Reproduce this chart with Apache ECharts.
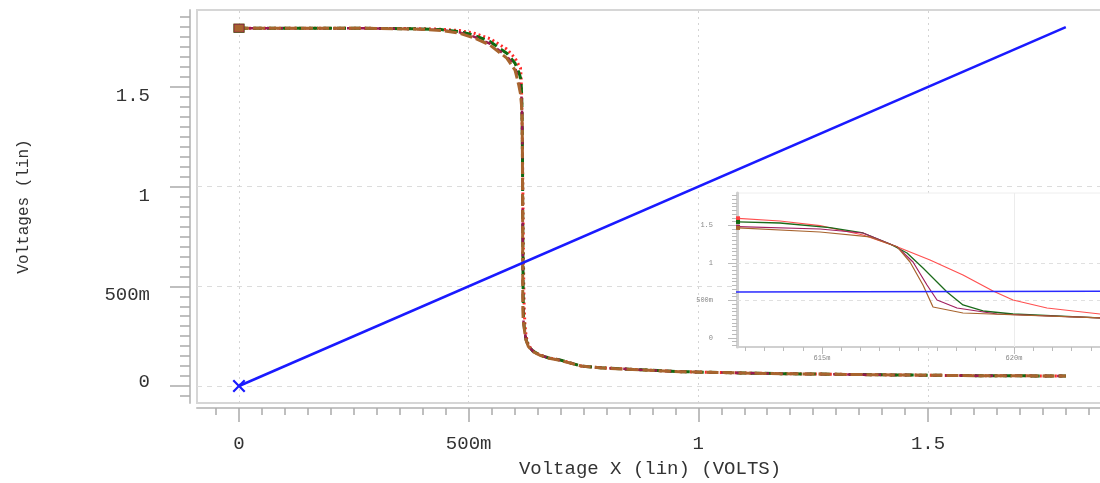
<!DOCTYPE html>
<html><head><meta charset="utf-8">
<script src="https://cdn.jsdelivr.net/npm/echarts@6/dist/echarts.min.js"></script>
<style>html,body{margin:0;padding:0;background:#fff}#c{width:1100px;height:483px}</style>
</head><body><div id="c"></div>
<script>
// ---- tick values / labels ----
const xTickValues = [0, 0.5, 1, 1.5];
const xTickLabels = ['0', '500m', '1', '1.5'];
const yTickValues = [0, 0.5, 1, 1.5];
const yTickLabels = ['0', '500m', '1', '1.5'];
const xMinorTicks = [-0.05,0,0.05,0.1,0.15,0.2,0.25,0.3,0.35,0.4,0.45,0.5,0.55,0.6,0.65,0.7,0.75,0.8,0.85,0.9,0.95,1,1.05,1.1,1.15,1.2,1.25,1.3,1.35,1.4,1.45,1.5,1.55,1.6,1.65,1.7,1.75,1.8,1.85];
const yMinorTicks = [-0.05,0,0.05,0.1,0.15,0.2,0.25,0.3,0.35,0.4,0.45,0.5,0.55,0.6,0.65,0.7,0.75,0.8,0.85,0.9,0.95,1,1.05,1.1,1.15,1.2,1.25,1.3,1.35,1.4,1.45,1.5,1.55,1.6,1.65,1.7,1.75,1.8,1.85];
const hGridValues = [0, 0.5, 1];
const vGridValues = [0, 0.5, 1, 1.5];

const insetXTickValues = [0.615, 0.62];
const insetXTickLabels = ['615m', '620m'];
const insetYTickValues = [0, 0.5, 1, 1.5];
const insetYTickLabels = ['0', '500m', '1', '1.5'];
const insetXMinorTicks = [0.613,0.6135,0.614,0.6145,0.615,0.6155,0.616,0.6165,0.617,0.6175,0.618,0.6185,0.619,0.6195,0.62,0.6205,0.621,0.6215,0.622];
const insetYMinorTicks = [-0.1,-0.05,0,0.05,0.1,0.15,0.2,0.25,0.3,0.35,0.4,0.45,0.5,0.55,0.6,0.65,0.7,0.75,0.8,0.85,0.9,0.95,1,1.05,1.1,1.15,1.2,1.25,1.3,1.35,1.4,1.45,1.5,1.55,1.6,1.65,1.7,1.75,1.8,1.85,1.9];
const insetHGrid = [0.5, 1];
const insetVGrid = [0.615, 0.62];

// ---- series values: [Vin, Vout] ----
const redPre = [[0,1.795],[0.1,1.795],[0.2,1.795],[0.3,1.794],[0.38,1.793],[0.44,1.79],[0.48,1.783],[0.51,1.771],[0.547,1.742],[0.583,1.69],[0.601,1.645],[0.609,1.61]];
const redTrans = [[0.612813,1.596],[0.613906,1.56],[0.614948,1.497],[0.616068,1.373],[0.616953,1.217],[0.617813,1.04],[0.618672,0.84],[0.619453,0.627],[0.619974,0.507],[0.620859,0.40],[0.62224,0.32]];
const redPost = [[0.625,0.25],[0.63,0.205],[0.64,0.177],[0.655,0.156],[0.675,0.141],[0.7,0.13],[0.745,0.1],[0.786,0.092],[0.87,0.082],[0.96,0.072],[1.1,0.065],[1.18,0.062],[1.4,0.056],[1.6,0.052],[1.8,0.05]];

const greenPre = [[0,1.795],[0.1,1.795],[0.2,1.795],[0.3,1.794],[0.38,1.792],[0.44,1.788],[0.48,1.778],[0.51,1.761],[0.547,1.727],[0.583,1.669],[0.601,1.619],[0.609,1.575]];
const greenTrans = [[0.612813,1.547],[0.613906,1.533],[0.615208,1.471],[0.616068,1.40],[0.616771,1.253],[0.617214,1.133],[0.61763,0.933],[0.617995,0.747],[0.618255,0.613],[0.618672,0.44],[0.619193,0.36],[0.619974,0.32],[0.62224,0.267]];
const greenPost = [[0.625,0.232],[0.63,0.2],[0.64,0.175],[0.655,0.155],[0.675,0.14],[0.7,0.13],[0.745,0.1],[0.786,0.092],[0.87,0.082],[0.96,0.072],[1.1,0.065],[1.18,0.062],[1.4,0.056],[1.6,0.052],[1.8,0.05]];

const maroonPre = [[0,1.795],[0.1,1.795],[0.2,1.795],[0.3,1.794],[0.38,1.791],[0.44,1.786],[0.48,1.774],[0.51,1.754],[0.547,1.717],[0.583,1.655],[0.601,1.6],[0.609,1.53]];
const maroonTrans = [[0.612813,1.484],[0.614948,1.453],[0.616068,1.40],[0.616953,1.217],[0.61737,1.013],[0.617734,0.707],[0.617995,0.507],[0.618516,0.40],[0.619557,0.32],[0.62224,0.267]];
const maroonPost = [[0.625,0.232],[0.63,0.2],[0.64,0.175],[0.655,0.155],[0.675,0.14],[0.7,0.129],[0.745,0.1],[0.786,0.092],[0.87,0.082],[0.96,0.072],[1.1,0.065],[1.18,0.062],[1.4,0.056],[1.6,0.052],[1.8,0.05]];

const brownPre = [[0,1.795],[0.1,1.795],[0.2,1.795],[0.3,1.794],[0.38,1.791],[0.44,1.784],[0.48,1.77],[0.51,1.748],[0.547,1.709],[0.583,1.645],[0.601,1.585],[0.609,1.51]];
const brownTrans = [[0.612813,1.467],[0.614948,1.413],[0.61625,1.347],[0.616953,1.217],[0.617292,1.013],[0.61763,0.707],[0.617891,0.413],[0.618672,0.333],[0.62224,0.267]];
const brownPost = [[0.625,0.23],[0.63,0.198],[0.64,0.173],[0.655,0.154],[0.675,0.139],[0.7,0.128],[0.745,0.1],[0.786,0.091],[0.87,0.081],[0.96,0.072],[1.1,0.065],[1.18,0.062],[1.4,0.056],[1.6,0.052],[1.8,0.05]];

const blueLine = [[0,0],[1.8,1.8]];

const red = redPre.concat(redTrans, redPost);
const green = greenPre.concat(greenTrans, greenPost);
const maroon = maroonPre.concat(maroonTrans, maroonPost);
const brown = brownPre.concat(brownTrans, brownPost);

const MONO = 'Liberation Mono';
const X_PATH = 'path://M0,1.2L1.2,0L5,3.8L8.8,0L10,1.2L6.2,5L10,8.8L8.8,10L5,6.2L1.2,10L0,8.8L3.8,5Z';

function withStart(arr, idx, size) {
  return arr.map((p, i) => i === idx ? {value: p, symbol: 'rect', symbolSize: size} : p);
}
function fmt(vals, labs) { return v => { const i = vals.indexOf(v); return i >= 0 ? labs[i] : ''; }; }
function fmtY(vals, labs) {
  return v => { const i = vals.indexOf(v); if (i < 0) return ''; return v === 0 ? '{u|' + labs[i] + '}' : '{d|' + labs[i] + '}'; };
}

const chart = echarts.init(document.getElementById('c'), null, {renderer: 'canvas'});

const mainX = {min: -0.0914, max: 1.881};
const mainY = {min: -0.0853, max: 1.8863};
const insX = {min: 0.612786, max: 0.622318};
const insY = {min: -0.12, max: 1.933};

const option = {
  animation: false,
  backgroundColor: '#fff',
  textStyle: {fontFamily: MONO},
  grid: [
    {left: 197, top: 10, right: -3, bottom: 80, show: true, borderColor: '#d6d6d6', borderWidth: 2, backgroundColor: '#fff', containLabel: false, outerBoundsMode: 'none'},
    {left: 737, top: 193, right: -3, bottom: 136, show: true, borderColor: '#eeeeee', borderWidth: 1, backgroundColor: '#fff', z: 3, containLabel: false, outerBoundsMode: 'none'}
  ],
  xAxis: [
    {type: 'value', gridIndex: 0, position: 'bottom', offset: 5, min: mainX.min, max: mainX.max,
     axisLine: {show: true, onZero: false, lineStyle: {color: '#c4c4c4', width: 2}},
     axisTick: {show: true, inside: false, length: 14, customValues: xTickValues, lineStyle: {color: '#aaa', width: 1.5}},
     axisLabel: {show: true, customValues: xTickValues, formatter: fmt(xTickValues, xTickLabels), margin: 26, fontFamily: MONO, fontSize: 19, color: '#333'},
     splitLine: {show: false},
     name: 'Voltage X (lin) (VOLTS)', nameLocation: 'middle', nameGap: 51,
     nameTextStyle: {fontFamily: MONO, fontSize: 19, color: '#333'}},
    {type: 'value', gridIndex: 0, position: 'bottom', offset: 5, min: mainX.min, max: mainX.max,
     axisLine: {show: false, onZero: false},
     axisTick: {show: true, inside: false, length: 7, customValues: xMinorTicks, lineStyle: {color: '#aaa', width: 1.5}},
     axisLabel: {show: false}, splitLine: {show: false}},
    {type: 'value', gridIndex: 1, position: 'bottom', offset: 0, min: insX.min, max: insX.max, z: 4,
     axisLine: {show: true, onZero: false, lineStyle: {color: '#d0d0d0', width: 2}},
     axisTick: {show: true, inside: false, length: 7, customValues: insetXTickValues, lineStyle: {color: '#bbb', width: 1}},
     axisLabel: {show: true, customValues: insetXTickValues, formatter: fmt(insetXTickValues, insetXTickLabels), margin: 8, fontFamily: MONO, fontSize: 7, color: '#888'},
     splitLine: {show: false}},
    {type: 'value', gridIndex: 1, position: 'bottom', offset: 0, min: insX.min, max: insX.max, z: 4,
     axisLine: {show: false, onZero: false},
     axisTick: {show: true, inside: false, length: 4, customValues: insetXMinorTicks, lineStyle: {color: '#bbb', width: 1}},
     axisLabel: {show: false}, splitLine: {show: false}}
  ],
  yAxis: [
    {type: 'value', gridIndex: 0, position: 'left', offset: 7, min: mainY.min, max: mainY.max,
     axisLine: {show: true, onZero: false, lineStyle: {color: '#c4c4c4', width: 2}},
     axisTick: {show: true, inside: false, length: 20, customValues: yTickValues, lineStyle: {color: '#aaa', width: 1.5}},
     axisLabel: {show: true, customValues: yTickValues, formatter: fmtY(yTickValues, yTickLabels), margin: 40, fontFamily: MONO, fontSize: 19, color: '#333',
       rich: {d: {fontFamily: MONO, fontSize: 19, color: '#333', padding: [18, 0, 0, 0]}, u: {fontFamily: MONO, fontSize: 19, color: '#333', padding: [0, 0, 8, 0]}}},
     splitLine: {show: false},
     name: 'Voltages (lin)', nameLocation: 'middle', nameGap: 158,
     nameTextStyle: {fontFamily: MONO, fontSize: 16, color: '#333'}},
    {type: 'value', gridIndex: 0, position: 'left', offset: 7, min: mainY.min, max: mainY.max,
     axisLine: {show: false, onZero: false},
     axisTick: {show: true, inside: false, length: 10, customValues: yMinorTicks, lineStyle: {color: '#aaa', width: 1.5}},
     axisLabel: {show: false}, splitLine: {show: false}},
    {type: 'value', gridIndex: 1, position: 'left', offset: 0, min: insY.min, max: insY.max, z: 4,
     axisLine: {show: true, onZero: false, lineStyle: {color: '#d0d0d0', width: 3}},
     axisTick: {show: true, inside: false, length: 9, customValues: insetYTickValues, lineStyle: {color: '#bbb', width: 1}},
     axisLabel: {show: true, customValues: insetYTickValues, formatter: fmt(insetYTickValues, insetYTickLabels), margin: 24, fontFamily: MONO, fontSize: 7, color: '#888'},
     splitLine: {show: false}},
    {type: 'value', gridIndex: 1, position: 'left', offset: 0, min: insY.min, max: insY.max, z: 4,
     axisLine: {show: false, onZero: false},
     axisTick: {show: true, inside: false, length: 5, customValues: insetYMinorTicks, lineStyle: {color: '#bbb', width: 1}},
     axisLabel: {show: false}, splitLine: {show: false}}
  ],
  series: [
    // main grid lines (drawn through the main scales)
    {type: 'line', xAxisIndex: 0, yAxisIndex: 0, data: blueLine, symbol: 'none', lineStyle: {opacity: 0}, silent: true, z: 1,
     markLine: {z: 1, silent: true, symbol: ['none', 'none'], label: {show: false}, animation: false,
       data: hGridValues.map(v => ({yAxis: v, lineStyle: {type: [5, 5], color: '#dcdcdc', width: 1}}))
         .concat(vGridValues.map(v => ({xAxis: v, lineStyle: {type: [2, 4], color: '#d4d4d4', width: 1}})))}},
    {name: 'red', type: 'line', xAxisIndex: 0, yAxisIndex: 0, data: withStart(red, 0, [11, 9]), symbol: 'none', showSymbol: true,
     itemStyle: {color: '#ff2a2a'}, lineStyle: {color: '#ff2a2a', width: 3, type: [2, 3]}, z: 2},
    {name: 'green', type: 'line', xAxisIndex: 0, yAxisIndex: 0, data: withStart(green, 0, [11, 9]), symbol: 'none', showSymbol: true,
     itemStyle: {color: '#106a10'}, lineStyle: {color: '#106a10', width: 3, type: [9, 5]}, z: 2},
    {name: 'maroon', type: 'line', xAxisIndex: 0, yAxisIndex: 0, data: withStart(maroon, 0, [10, 8]), symbol: 'none', showSymbol: true,
     itemStyle: {color: '#9a1850'}, lineStyle: {color: '#9a1850', width: 2.5, type: [6, 8], dashOffset: 4}, z: 2},
    {name: 'brown', type: 'line', xAxisIndex: 0, yAxisIndex: 0, data: withStart(brown, 0, [9, 7]), symbol: 'none', showSymbol: true,
     itemStyle: {color: '#a8642e'}, lineStyle: {color: '#a8642e', width: 3, type: [12, 4], dashOffset: 2}, z: 2},
    {name: 'blue', type: 'line', xAxisIndex: 0, yAxisIndex: 0,
     data: blueLine.map((p, i) => i === 0 ? {value: p, symbol: X_PATH, symbolSize: 13} : p),
     symbol: 'none', showSymbol: true, itemStyle: {color: '#1a1aff'}, lineStyle: {color: '#1a1aff', width: 2.5}, z: 2},

    // inset
    {type: 'line', xAxisIndex: 2, yAxisIndex: 2, data: blueLine, symbol: 'none', lineStyle: {opacity: 0}, silent: true, z: 5,
     markLine: {z: 5, silent: true, symbol: ['none', 'none'], label: {show: false}, animation: false,
       data: insetHGrid.map(v => ({yAxis: v, lineStyle: {type: [4, 4], color: '#e0e0e0', width: 1}}))
         .concat(insetVGrid.map(v => ({xAxis: v, lineStyle: {type: 'solid', color: '#ececec', width: 1}})))}},
    {type: 'line', xAxisIndex: 2, yAxisIndex: 2, data: withStart(red, redPre.length, 4), symbol: 'none', showSymbol: true,
     itemStyle: {color: '#ff4040'}, lineStyle: {color: '#ff5050', width: 1.2}, z: 6},
    {type: 'line', xAxisIndex: 2, yAxisIndex: 2, data: withStart(green, greenPre.length, 4), symbol: 'none', showSymbol: true,
     itemStyle: {color: '#106a10'}, lineStyle: {color: '#1a6a1a', width: 1.3}, z: 6},
    {type: 'line', xAxisIndex: 2, yAxisIndex: 2, data: withStart(maroon, maroonPre.length, 4), symbol: 'none', showSymbol: true,
     itemStyle: {color: '#a02060'}, lineStyle: {color: '#a02060', width: 1.2}, z: 6},
    {type: 'line', xAxisIndex: 2, yAxisIndex: 2, data: withStart(brown, brownPre.length, 4), symbol: 'none', showSymbol: true,
     itemStyle: {color: '#a8642e'}, lineStyle: {color: '#a8642e', width: 1.2}, z: 6},
    {type: 'line', xAxisIndex: 2, yAxisIndex: 2, data: blueLine, symbol: 'none',
     lineStyle: {color: '#2a2aff', width: 1.5}, z: 6}
  ]
};
chart.setOption(option);
</script>
</body></html>
